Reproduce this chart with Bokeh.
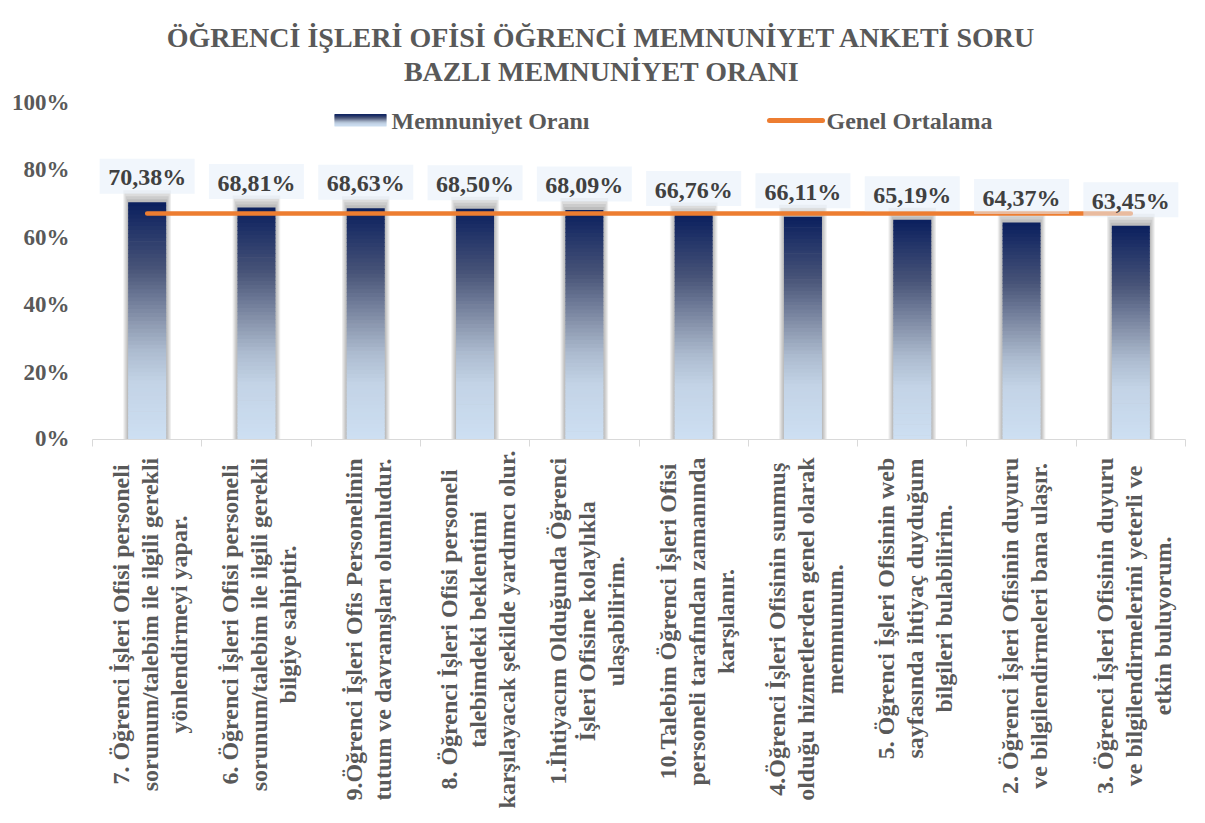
import math
from bokeh.plotting import figure
from bokeh.layouts import column
from bokeh.models import (Range1d, FixedTicker, NumeralTickFormatter, ColumnDataSource, Label)
from bokeh.embed import file_html
from bokeh.resources import INLINE
from bokeh.core.properties import value

# ---------------- data ----------------
question_lines = [
    ["7. Öğrenci İşleri Ofisi personeli", "sorunum/talebim ile ilgili gerekli", "yönlendirmeyi yapar."],
    ["6. Öğrenci İşleri Ofisi personeli", "sorunum/talebim ile ilgili gerekli", "bilgiye sahiptir."],
    ["9.Öğrenci İşleri Ofis Personelinin", "tutum ve davranışları olumludur."],
    ["8. Öğrenci İşleri Ofisi personeli", "talebimdeki beklentimi", "karşılayacak şekilde yardımcı olur."],
    ["1.İhtiyacım Olduğunda Öğrenci", "İşleri Ofisine kolaylıkla", "ulaşabilirim."],
    ["10.Talebim Öğrenci İşleri Ofisi", "personeli tarafından zamanında", "karşılanır."],
    ["4.Öğrenci İşleri Ofisinin sunmuş", "olduğu hizmetlerden genel olarak", "memnunum."],
    ["5. Öğrenci İşleri Ofisinin web", "sayfasında ihtiyaç duyduğum", "bilgileri bulabilirim."],
    ["2. Öğrenci İşleri Ofisinin duyuru", "ve bilgilendirmeleri bana ulaşır."],
    ["3. Öğrenci İşleri Ofisinin duyuru", "ve bilgilendirmelerini yeterli ve", "etkin buluyorum."],
]
memnuniyet_orani = [70.38, 68.81, 68.63, 68.50, 68.09, 66.76, 66.11, 65.19, 64.37, 63.45]
genel_ortalama = [67.03]
y_ticks = [0, 0.2, 0.4, 0.6, 0.8, 1.0]
title_lines = ["ÖĞRENCİ İŞLERİ OFİSİ ÖĞRENCİ MEMNUNİYET ANKETİ SORU", "BAZLI MEMNUNİYET ORANI"]
legend_names = ["Memnuniyet Oranı", "Genel Ortalama"]

# ---------------- layout (reference-image pixel coordinates) ----------------
OX, OY = 3, 1                       # where the canvas lands on the page
TOTAL_W = 1195
FRAME_L, FRAME_T = 95, 103
FRAME_W, FRAME_H = 1093, 337
TOP_PAD, BOT_PAD = 14, 11
BORDER_L = FRAME_L - OX
BORDER_R = TOTAL_W - BORDER_L - FRAME_W
NCAT = len(memnuniyet_orani)
PXX = NCAT / FRAME_W
PXY = 1.0 / FRAME_H

def fx(rx):
    return (rx - FRAME_L) * PXX

def fy(ry):
    return (FRAME_T + FRAME_H - ry) * PXY

FONT = "Liberation Serif"
GREY = "#595959"

xs = [i + 0.5 for i in range(NCAT)]
vals = [v / 100 for v in memnuniyet_orani]
avg = genel_ortalama[0] / 100
BAR_W = 38 * PXX

stops = [(0.0, (205, 223, 242)), (0.24, (195, 211, 230)), (0.375, (172, 187, 207)),
         (0.51, (136, 148, 172)), (0.72, (72, 84, 120)), (1.0, (10, 31, 94))]

def grad(t):
    for (t0, c0), (t1, c1) in zip(stops[:-1], stops[1:]):
        if t <= t1:
            f = (t - t0) / (t1 - t0)
            return "#%02x%02x%02x" % tuple(int(round(a + (b - a) * f)) for a, b in zip(c0, c1))
    return "#%02x%02x%02x" % stops[-1][1]

def blank(fig):
    fig.xgrid.visible = False
    fig.ygrid.visible = False
    fig.outline_line_color = None
    fig.background_fill_color = "white"
    fig.border_fill_color = "white"

xr = Range1d(0, NCAT)

# ---------------- title strip ----------------
title_top, title_bot = OY, FRAME_T - TOP_PAD
tfig = figure(width=TOTAL_W, height=title_bot - title_top,
              x_range=xr, y_range=Range1d(title_bot, title_top),
              min_border_left=BORDER_L, min_border_right=BORDER_R,
              min_border_top=0, min_border_bottom=0,
              x_axis_location=None, y_axis_location=None,
              output_backend="svg", toolbar_location=None, tools="")
blank(tfig)
tfig.text(x=[fx(604), fx(604)], y=[38, 72], text=title_lines, text_align="center",
          text_baseline="middle", text_font=value(FONT), text_font_style="bold",
          text_font_size="28px", text_color=GREY)

# ---------------- main plot ----------------
p = figure(x_range=xr, y_range=Range1d(0, 1),
           frame_width=FRAME_W, frame_height=FRAME_H,
           min_border_left=BORDER_L, min_border_right=BORDER_R,
           min_border_top=TOP_PAD, min_border_bottom=BOT_PAD,
           output_backend="svg", toolbar_location=None, tools="")
blank(p)

p.yaxis.ticker = FixedTicker(ticks=y_ticks)
p.yaxis.formatter = NumeralTickFormatter(format="0%")
p.yaxis.axis_line_color = None
p.yaxis.major_tick_line_color = None
p.yaxis.major_tick_out = 0
p.yaxis.major_tick_in = 0
p.yaxis.minor_tick_line_color = None
p.yaxis.minor_tick_out = 0
p.yaxis.major_label_standoff = 23
p.yaxis.major_label_text_font = FONT
p.yaxis.major_label_text_font_style = "bold"
p.yaxis.major_label_text_font_size = "23px"
p.yaxis.major_label_text_color = GREY

p.xaxis.ticker = FixedTicker(ticks=list(range(NCAT + 1)))
p.xaxis.axis_line_color = "#d9d9d9"
p.xaxis.major_tick_line_color = "#d9d9d9"
p.xaxis.major_tick_out = 7
p.xaxis.major_tick_in = 0
p.xaxis.minor_tick_line_color = None
p.xaxis.minor_tick_out = 0
p.xaxis.major_label_standoff = 0
p.xaxis.major_label_text_font_size = "1px"
p.xaxis.major_label_text_alpha = 0

# bar shadows
for k in range(1, 5):
    p.vbar(x=xs, bottom=0, top=[v + 3 * k * PXY for v in vals],
           width=BAR_W + 2.4 * k * PXX, fill_color="black", fill_alpha=0.07, line_color=None)

# gradient bars
N = 60
bx, bb, bt, bc = [], [], [], []
for c, v in zip(xs, vals):
    for k in range(N):
        bx.append(c)
        bb.append(v * k / N)
        bt.append(min(v, v * (k + 1) / N + 0.7 * PXY))
        bc.append(grad((k + 0.5) / N))
p.vbar(x="x", bottom="b", top="t", width=BAR_W, fill_color="c", line_color=None,
       source=ColumnDataSource(dict(x=bx, b=bb, t=bt, c=bc)))

# average line
p.line(x=xs, y=[avg] * NCAT, line_color="#ED7D31", line_width=4.5, line_cap="round")

# data labels
lab_y = [v + 26 * PXY for v in vals]
p.rect(x=xs, y=lab_y, width=95 * PXX, height=35 * PXY, fill_color="#e6eef9",
       fill_alpha=0.55, line_color=None)
p.text(x=xs, y=[y - 1 * PXY for y in lab_y],
       text=[("%.2f" % v).replace(".", ",") + "%" for v in memnuniyet_orani],
       text_align="center", text_baseline="middle", text_font=value(FONT),
       text_font_style="bold", text_font_size="24px", text_color="#404040")

# legend
LN = 12
lx0, lx1, ly0, ly1 = fx(337), fx(389), fy(127), fy(115)
p.quad(left=[lx0] * LN, right=[lx1] * LN,
       bottom=[ly0 + (ly1 - ly0) * k / LN for k in range(LN)],
       top=[ly0 + (ly1 - ly0) * (k + 1) / LN + 0.5 * PXY for k in range(LN)],
       fill_color=[grad((k + 0.5) / LN) for k in range(LN)], line_color=None)
p.line(x=[fx(772), fx(825)], y=[fy(121), fy(121)], line_color="#ED7D31", line_width=5,
       line_cap="round")
for name, rx in zip(legend_names, [394, 829]):
    p.add_layout(Label(x=fx(rx), y=fy(121), text=name, text_align="left",
                       text_baseline="middle", text_font=FONT, text_font_style="bold",
                       text_font_size="24px", text_color=GREY))

# ---------------- category label strip ----------------
W = {' ': 250, '.': 250, ',': 250, '/': 278, '%': 1000}
for ch in "0123456789":
    W[ch] = 500
for tok in ("a500 b556 c444 d556 e444 f333 g500 h556 i278 j333 k556 l278 m833 n556 o500 p556 "
            "q556 r444 s389 t333 u556 v500 w722 x500 y500 z444 ı278 ğ500 ş389 ç444 ö500 ü556 "
            "A722 B667 C722 D722 E667 F611 G778 H778 I389 İ389 K778 L667 M944 N722 O778 Ö778 "
            "P611 R722 S556 Ş556 T667 U722 Ü722 Y722 Ç722 Ğ778").split():
    W[tok[0]] = int(tok[1:])

def text_w(s, size=24):
    return sum(W.get(ch, 500) for ch in s) / 1000 * size

lab_top = FRAME_T + FRAME_H + BOT_PAD
lab_bot = 815
lfig = figure(width=TOTAL_W, height=lab_bot - lab_top,
              x_range=xr, y_range=Range1d(lab_bot, lab_top),
              min_border_left=BORDER_L, min_border_right=BORDER_R,
              min_border_top=0, min_border_bottom=0,
              x_axis_location=None, y_axis_location=None,
              output_backend="svg", toolbar_location=None, tools="")
blank(lfig)

LINE_SP = 29
sx, sy, st = [], [], []
for i, lines in enumerate(question_lines):
    wmax = max(text_w(s) for s in lines)
    n = len(lines)
    cy = min(458 + wmax / 2, lab_bot - 5 - wmax / 2)
    for j, s in enumerate(lines):
        sx.append(xs[i] + (j - (n - 1) / 2 + 0.1) * LINE_SP * PXX)
        sy.append(cy)
        st.append(s)
lfig.text(x=sx, y=sy, text=st, angle=math.pi / 2, text_align="center",
          text_baseline="middle", text_font=value(FONT), text_font_style="bold",
          text_font_size="24px", text_color=GREY)

layout = column(tfig, p, lfig, spacing=0)
open("out.html", "w").write(file_html(layout, INLINE))
